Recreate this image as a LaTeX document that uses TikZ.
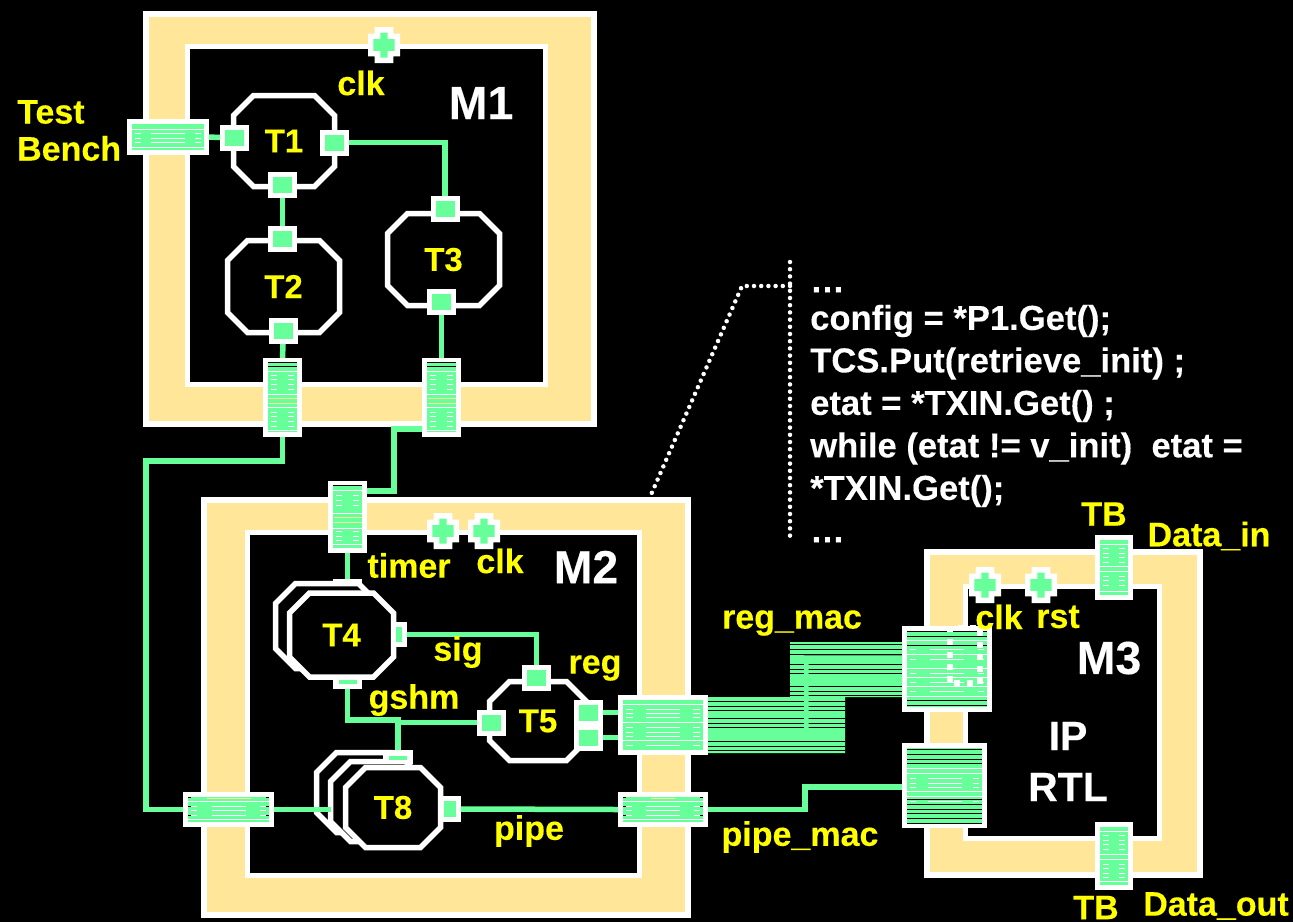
\documentclass[tikz,border=0pt]{standalone}
\usepackage{fontspec}
\setmainfont{Liberation Sans}[BoldFeatures={FakeBold=0.25}]
\definecolor{tanc}{HTML}{FFE699}
\definecolor{wirec}{HTML}{66FF99}
\definecolor{labc}{HTML}{FFFF00}
\tikzset{
  frameo/.style={draw=white,fill=tanc,line width=6pt,inner sep=0pt,outer sep=0pt},
  framei/.style={draw=white,fill=black,line width=5pt,inner sep=0pt,outer sep=0pt},
  taskbox/.style={rectangle,inner sep=0pt,outer sep=0pt,text=labc,font=\bfseries\fontsize{33}{35}\selectfont},
  taskline/.style={draw=white,fill=black,line width=5.5pt,line join=miter},
  port/.style={rectangle,draw=white,fill=wirec,line width=5pt,minimum width=24pt,minimum height=21pt,inner sep=0pt,outer sep=2.5pt},
  whitebox/.style={rectangle,fill=white,inner sep=0pt,outer sep=0pt},
  greenbox/.style={rectangle,fill=wirec,inner sep=0pt,outer sep=0pt},
  busbox/.style={rectangle,fill=white,inner sep=0pt,outer sep=0pt},
  wire/.style={draw=wirec,line width=5.5pt,line join=miter},
  lab/.style={text=labc,inner sep=0pt,font=\bfseries\fontsize{34}{37}\selectfont},
  bigw/.style={text=white,inner sep=0pt,font=\bfseries\fontsize{46.5}{47}\selectfont},
  midw/.style={text=white,inner sep=0pt,font=\bfseries\fontsize{41}{41}\selectfont},
  codetxt/.style={text=white,inner sep=0pt,align=left,font=\bfseries\fontsize{34.6}{42.5}\selectfont},
  dots/.style={draw=white,line width=4.5pt,line cap=round,dash pattern=on 0pt off 7.2pt},
  clknode/.style={inner sep=0pt,minimum width=32pt,minimum height=36pt},
}
% name, cx, cy, w, h, text : an octagon with a name
\newcommand\tasknode[6]{%
  \node[taskbox,minimum width=#4pt,minimum height=#5pt] (#1) at (#2,#3) {};
  \draw[taskline] (#2-#4/2+20,#3-#5/2) -- (#2+#4/2-20,#3-#5/2) -- (#2+#4/2,#3-#5/2+20) -- (#2+#4/2,#3+#5/2-20) -- (#2+#4/2-20,#3+#5/2) -- (#2-#4/2+20,#3+#5/2) -- (#2-#4/2,#3+#5/2-20) -- (#2-#4/2,#3-#5/2+20) -- cycle;
  \node[taskbox] (#1txt) at (#1.center) {#6};}
% name, width, full white, short white, short length, black full, black ticks, tan, tan half width
\newcommand\bushatch[9]{%
  \begin{scope}[shift={(#1.north west)}]
    \fill[wirec] (5,5) rectangle (#2-5,\pgfkeysvalueof{/tikz/bushh}-5);
    \foreach \yy in {#8} {\draw[tanc,line width=1pt] (#2/2-#9,\yy) -- (#2/2+#9,\yy);}
    \foreach \yy in {#6} {\draw[black,line width=.9pt] (5,\yy) -- (#2-5,\yy);}
    \foreach \yy in {#7} {\draw[black,line width=.9pt] (5,\yy) -- (8,\yy); \draw[black,line width=.9pt] (#2-8,\yy) -- (#2-5,\yy);}
    \foreach \yy in {#3} {\draw[white,line width=.9pt] (5,\yy) -- (#2-5,\yy);}
    \foreach \yy in {#4} {\draw[white,line width=.9pt] (8,\yy) -- (8+#5,\yy); \draw[white,line width=.9pt] (#2-8-#5,\yy) -- (#2-8,\yy);
      \ifnum#2>60 \draw[white,line width=.9pt] (#2/2-17,\yy) -- (#2/2+17,\yy);\fi}
  \end{scope}}
\pgfkeys{/tikz/bushh/.initial=40}
\newcommand\clkport[3]{%
  \node[clknode] (#1) at (#2,#3) {};
  \begin{scope}[shift={(#1.center)}]
    \fill[white] (-16,-11.3) rectangle (16,11.3) (-9.3,-18) rectangle (9.3,18);
    \fill[wirec] (-3.7,-12.5) rectangle (3.7,12.5) (-10.7,-5.8) rectangle (10.7,5.8);
  \end{scope}}
\begin{document}
\begin{tikzpicture}[x=1pt,y=-1pt]
\useasboundingbox (0,0) rectangle (1293,922);
\clip (0,0) rectangle (1293,922);
\fill[black] (0,0) rectangle (1293,922);
% frames
\node[frameo,minimum width=447.5pt,minimum height=410pt] (m1) at (370,218.5) {};
\node[framei,minimum width=358pt,minimum height=338.5pt] (m1in) at (366.5,215.25) {};
\node[frameo,minimum width=483.5pt,minimum height=415pt] (m2) at (445.75,707.5) {};
\node[framei,minimum width=391.5pt,minimum height=342.5pt] (m2in) at (443.25,703.75) {};
\node[frameo,minimum width=272.5pt,minimum height=323.5pt] (m3) at (1063.25,713.25) {};
\node[framei,minimum width=194pt,minimum height=252pt] (m3in) at (1062,712) {};
% tasks
\tasknode{t1}{284}{141}{101}{91}{T1}
\tasknode{t2}{283.5}{286.5}{112}{92}{T2}
\tasknode{t3}{443.5}{259.5}{112}{92}{T3}
\tasknode{t4b}{327}{626}{103}{85}{}
\tasknode{t4}{341.5}{635}{104}{84}{T4}
\tasknode{t5}{538}{721}{97}{79}{T5}
\tasknode{t8b}{364}{792.5}{95}{80}{}
\tasknode{t8m}{378}{801.5}{95}{80}{}
\tasknode{t8}{393}{807.5}{95}{80}{T8}
% ports
\node[port] (t1l) at (234.5,137.5) {};
\node[port] (t1r) at (334.5,142.5) {};
\node[port] (t1bp) at (282.5,185) {};
\node[port] (t2t) at (282.5,239) {};
\node[port] (t2bp) at (283,331) {};
\node[port] (t3t) at (445,209) {};
\node[port] (t3bp) at (441.5,302) {};
\node[port] (t5t) at (536.5,678) {};
\node[port] (t5l) at (491.5,722.5) {};
\node[port] (t5ra) at (588.5,712.5) {};
\node[port] (t5rb) at (588.5,737.5) {};
\node[whitebox,minimum width=11pt,minimum height=25pt] (t4r) at (401.5,634.5) {};
\node[greenbox,minimum width=6pt,minimum height=15pt] (t4rin) at (399,634.5) {};
\node[whitebox,minimum width=29pt,minimum height=10pt] (t4bot) at (347.5,684) {};
\node[greenbox,minimum width=18pt,minimum height=4pt] (t4botin) at (348,682) {};
\node[whitebox,minimum width=29pt,minimum height=6pt] (t4top) at (347.5,582) {};
\node[whitebox,minimum width=30pt,minimum height=14pt] (t8t) at (398,757) {};
\node[greenbox,minimum width=18pt,minimum height=4pt] (t8tin) at (398,757.5) {};
\node[whitebox,minimum width=18pt,minimum height=26pt] (t8r) at (452,809) {};
\node[greenbox,minimum width=12pt,minimum height=16pt] (t8rin) at (450,809) {};
% buses
\node[busbox,minimum width=82pt,minimum height=36pt] (tb) at (168,137) {};
\node[busbox,minimum width=39pt,minimum height=79pt] (m1a) at (282.5,397.5) {};
\node[busbox,minimum width=39pt,minimum height=79pt] (m1b) at (441.5,397.5) {};
\node[busbox,minimum width=39pt,minimum height=72pt] (m2top) at (347.5,517) {};
\node[busbox,minimum width=91pt,minimum height=35pt] (m2l) at (228.5,809.5) {};
\node[busbox,minimum width=90pt,minimum height=60pt] (m2r) at (663,725) {};
\node[busbox,minimum width=90pt,minimum height=35pt] (m2p) at (663,809.5) {};
\node[busbox,minimum width=90pt,minimum height=86pt] (m3r) at (947,669) {};
\node[busbox,minimum width=85pt,minimum height=85pt] (m3p) at (944.5,785.5) {};
\node[busbox,minimum width=38pt,minimum height=65pt] (m3t) at (1114,567.5) {};
\node[busbox,minimum width=38pt,minimum height=68pt] (m3b) at (1114,856) {};
% reg_mac wide bundle
\fill[wirec] (708,697) -- (790,697) -- (790,642) -- (902,642) -- (902,697) -- (845,697) -- (845,753) -- (708,753) -- cycle;
\foreach \yy in {644.7,649.3,654,664.3,669,673.7,686.3,691,695.3} {\draw[black,line width=.9pt] (790,\yy) -- (902,\yy);}
\foreach \yy in {701.3,706,710.7,718.3,723,727.7,741.3,746,750.7} {\draw[black,line width=.9pt] (708,\yy) -- (845,\yy);}
\draw[black!45!wirec,line width=1pt] (804,655) -- (902,655);
\fill[wirec] (804,655.5) rectangle (902,658) (804,655.5) rectangle (808.5,737);
% wires
\draw[wire] (tb.east) -- (t1l.west);
\draw[wire] (t1r.east) -| (t3t.north);
\draw[wire] (t1bp.south) -- (t2t.north);
\draw[wire] (t2bp.south) -- (m1a.north);
\draw[wire] (t3bp.south) -- (m1b.north);
\coordinate (c1) at (146,461);
\draw[wire] (m1a.south) |- (c1) |- (m2l.west);
\coordinate (c2) at (394,429);
\coordinate (c2b) at (367,491);
\draw[wire] (m1b.west |- c2) -- (c2) |- (c2b);
\draw[wire] (m2top.south) -- (t4top.north);
\draw[wire] (m2l.east) -- (t8m.west |- m2l.east);
\draw[wire] (t4r.east) -| (t5t.north);
\coordinate (jn) at (398,720);
\draw[wire] (t4bot.south) |- (jn) -- (t8t.north);
\draw[wire] (jn |- t5l.west) -- (t5l.west);
\draw[wire] (t8r.east) -- (m2p.west);
\coordinate (c3) at (805,787);
\draw[wire] (m2p.east) -| (c3) -- (m3p.west |- c3);
\draw[wire] (t5ra.east) -- (m2r.west |- t5ra.east);
\draw[wire] (t5rb.east) -- (m2r.west |- t5rb.east);
% bus hatching
\pgfkeys{/tikz/bushh=36}
\bushatch{tb}{82}{10,28}{14.5,19.5,23.5}{6}{}{10,28}{19.5}{10}
\pgfkeys{/tikz/bushh=79}
\bushatch{m1a}{39}{13.7,36,49.5,72.7}{17,21.7,26,31,54,58,63,68}{6}{4.7,8.7}{}{40.5,45.5}{14}
\bushatch{m1b}{39}{13.7,36,49.5,72.7}{17,21.7,26,31,54,58,63,68}{6}{4.7,8.7}{}{40.5,45.5}{14}
\pgfkeys{/tikz/bushh=72}
\bushatch{m2top}{39}{9.5,32,47,63.5}{14,19,24,50.5,55,59.5}{6}{4.5}{}{36,41}{14}
\pgfkeys{/tikz/bushh=35}
\bushatch{m2l}{91}{9.5,27}{14,18.5,23}{6}{}{5,9.5,14,23,27}{6.5,27}{22}
\bushatch{m2p}{90}{9.5,27}{14,18.5,23}{6}{}{5,9.5,14,23,27}{6.5,27}{12}
\pgfkeys{/tikz/bushh=60}
\bushatch{m2r}{90}{4.3,9.3,27.3,45,55}{14,18.3,22.7,32.3,37.3,41.7,50}{7}{}{}{18,37,50}{11}
\pgfkeys{/tikz/bushh=86}
\bushatch{m3r}{90}{14,28,42,51,60,70}{23,33,47,56,65}{6}{5,10,19,74,79}{14,42}{14,33,56,79}{12}
\pgfkeys{/tikz/bushh=85}
\bushatch{m3p}{85}{25,30,48,53}{35,40,44,58}{6}{6.7,11.7,16,20.7,56.7,61.7,66,70.7,75,80}{}{11,30,44,70,80}{11}
\pgfkeys{/tikz/bushh=65}
\bushatch{m3t}{38}{9,31,36,56}{13.5,18,22.5,27,41,45.5,50}{6}{}{9,56}{31,36}{13}
\pgfkeys{/tikz/bushh=68}
\bushatch{m3b}{38}{9,32,37,59}{13.5,18,22.5,27,42,46.5,51,55}{6}{}{9,59}{32,37}{13}
% white dots on M3 reg bus
\foreach \xx/\yy in {950/629,950/642,950/655,950/667,950/679,961/628,973/628,980/633,980/645,980/657,980/669,980/681,957/683,970/683} {\fill[white] (\xx-3,\yy-3) rectangle (\xx+3,\yy+3);}
% clocks
\clkport{ck1}{384}{45}
\clkport{ck2}{443}{531}
\clkport{ck3}{484}{531}
\clkport{ck4}{985}{585}
\clkport{ck5}{1041}{585}
% dotted annotation
\coordinate (da) at (790,262);
\coordinate (db) at (790,538);
\coordinate (dc) at (790,286);
\coordinate (dd) at (742,286);
\coordinate (de) at (650,497);
\draw[dots] (da) -- (db);
\draw[dots] (dc) -- (dd) -- (de);
% labels
\node[lab,align=left,anchor=west] (ltb) at (17,130.5) {Test\\Bench};
\node[lab] (lck1) at (361,83) {clk};
\node[bigw] (lm1) at (481,103) {M1};
\node[lab] (ltimer) at (409,565.5) {timer};
\node[lab] (lck2) at (500,561) {clk};
\node[bigw] (lm2) at (586,567) {M2};
\node[lab] (lsig) at (458,652) {sig};
\node[lab] (lgshm) at (414,700) {gshm};
\node[lab] (lreg) at (595,668) {reg};
\node[lab] (lpipe) at (529,831) {pipe};
\node[lab] (lregm) at (792,623) {reg\_mac};
\node[lab] (lpipem) at (800,837) {pipe\_mac};
\node[lab] (ltb1) at (1104,514) {TB};
\node[lab] (ldin) at (1209,536) {Data\_in};
\node[lab] (lck3) at (999,617) {clk};
\node[lab] (lrst) at (1058,617) {rst};
\node[bigw] (lm3) at (1109,658) {M3};
\node[midw] (lip) at (1068,736) {IP};
\node[midw] (lrtl) at (1068,787) {RTL};
\node[lab] (ltb2) at (1096,907.5) {TB};
\node[lab] (ldout) at (1216,906) {Data\_out};
\node[codetxt,anchor=north west] (code) at (810,287) {…\\[-5pt]config = *P1.Get();\\TCS.Put(retrieve\_init) ;\\etat = *TXIN.Get() ;\\while (etat != v\_init)\ \ etat =\\*TXIN.Get();\\…};
\end{tikzpicture}
\end{document}
